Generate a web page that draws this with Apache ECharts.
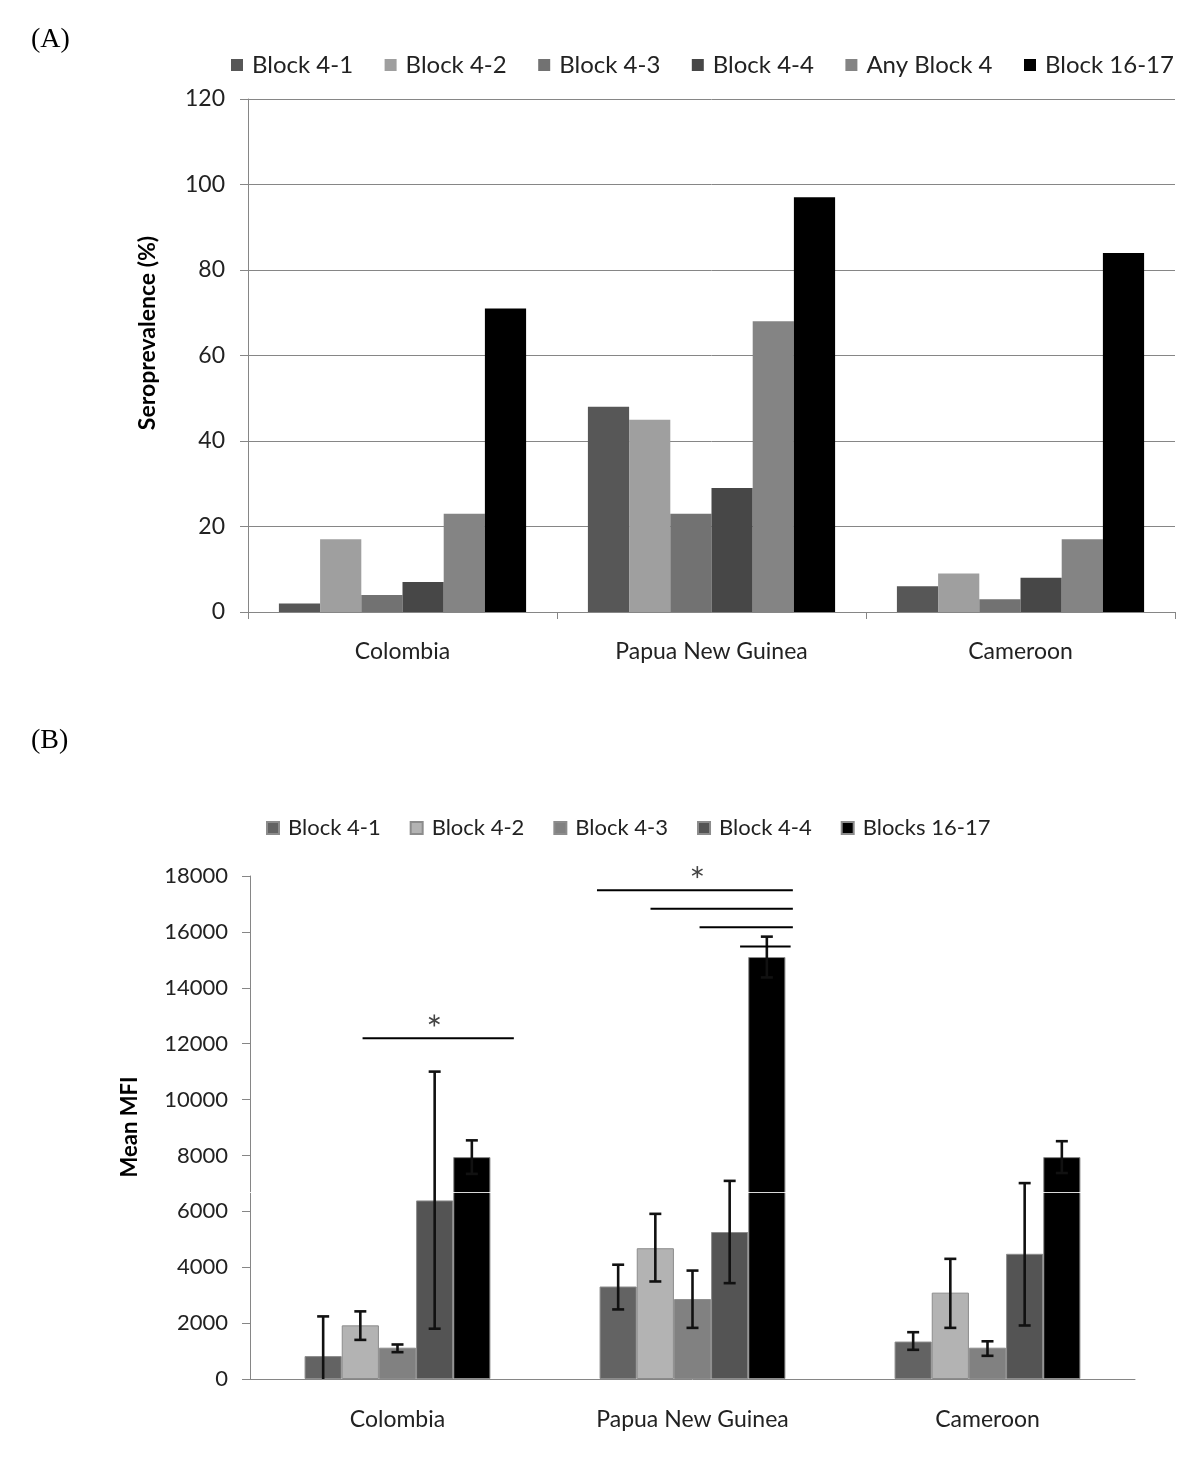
<!DOCTYPE html>
<html><head><meta charset="utf-8">
<script src="https://cdn.jsdelivr.net/npm/echarts@6/dist/echarts.min.js"></script>
<style>
html,body{margin:0;padding:0;background:#fff;}
#a{position:absolute;left:0;top:0;width:1200px;height:700px;}
#b{position:absolute;left:0;top:700px;width:1200px;height:768px;}
</style>
</head><body><div id="a"></div><div id="b"></div>
<script>
// ---------- shared ----------
const countries = ['Colombia', 'Papua New Guinea', 'Cameroon'];

// ---------- Panel A: seroprevalence (%) ----------
const namesA = ['Block 4-1', 'Block 4-2', 'Block 4-3', 'Block 4-4', 'Any Block 4', 'Block 16-17'];
const block41A = [2, 48, 6];
const block42A = [17, 45, 9];
const block43A = [4, 23, 3];
const block44A = [7, 29, 8];
const anyBlock4A = [23, 68, 17];
const block1617A = [71, 97, 84];
const yMinA = 0, yMaxA = 120, yStepA = 20;
const yTitleA = 'Seroprevalence (%)';

// ---------- Panel B: mean MFI ----------
const namesB = ['Block 4-1', 'Block 4-2', 'Block 4-3', 'Block 4-4', 'Blocks 16-17'];
const block41B = [820, 3310, 1340];
const block42B = [1920, 4680, 3090];
const block43B = [1120, 2860, 1120];
const block44B = [6390, 5260, 4480];
const block1617B = [7940, 15100, 7940];
// error bar ends (low, high)
const errLow41B = [-600, 2490, 1045];
const errHigh41B = [2240, 4090, 1675];
const errLow42B = [1400, 3490, 1830];
const errHigh42B = [2420, 5910, 4300];
const errLow43B = [960, 1830, 830];
const errHigh43B = [1235, 3880, 1350];
const errLow44B = [1800, 3430, 1915];
const errHigh44B = [11000, 7090, 7010];
const errLow1617B = [7340, 14370, 7370];
const errHigh1617B = [8540, 15830, 8510];
const yMinB = 0, yMaxB = 18000, yStepB = 2000;
const yTitleB = 'Mean MFI';
// significance bars: category, level, span in bar slots (0 = left edge of first bar)
const sigCategory = [0, 1, 1, 1, 1];
const sigLevel = [12190, 17490, 16830, 16170, 15480];
const sigFromSlot = [1.56, -0.07, 1.37, 2.69, 3.78];
const sigToSlot = [5.63, 5.2, 5.2, 5.2, 5.14];
const starCategory = [0, 1];
const starLevel = [12830, 18140];
const starSlot = [3.49, 2.63];
const artifactLevelB = 6700;

const FONT = 'Lato, "Open Sans", sans-serif';
const SERIF = '"Liberation Serif", "Times New Roman", serif';
const AXIS_GREY = '#868686';

// ================= Chart A =================
const colorsA = ['#575757', '#9f9f9f', '#727272', '#474747', '#848484', '#000000'];
const dataA = [block41A, block42A, block43A, block44A, anyBlock4A, block1617A];
const chartA = echarts.init(document.getElementById('a'), null, {renderer: 'canvas'});
chartA.setOption({
  animation: false,
  backgroundColor: '#fff',
  graphic: [
    {type: 'text', left: 31, top: 26, style: {text: '(A)', font: '28px ' + SERIF, fill: '#000'}},
    {type: 'text', x: 148, y: 333, rotation: Math.PI / 2,
     style: {text: yTitleA, font: 'bold 23px ' + FONT, fill: '#000', align: 'center', verticalAlign: 'middle'}}
  ],
  legend: {
    data: namesA, left: 226, top: 48, itemWidth: 12, itemHeight: 12, itemGap: 31.5,
    icon: 'rect',
    textStyle: {fontFamily: FONT, fontSize: 24, color: '#222', padding: [0, 0, 0, 4]}
  },
  grid: {left: 248, right: 25, top: 99, bottom: 88},
  xAxis: {
    type: 'category', data: countries,
    axisLine: {lineStyle: {color: AXIS_GREY, width: 1}},
    axisTick: {show: true, length: 7, lineStyle: {color: AXIS_GREY}},
    axisLabel: {fontFamily: FONT, fontSize: 23, color: '#222', margin: 28}
  },
  yAxis: {
    type: 'value', min: yMinA, max: yMaxA, interval: yStepA,
    axisLine: {show: true, lineStyle: {color: AXIS_GREY}},
    axisTick: {show: true, length: 8, lineStyle: {color: AXIS_GREY}},
    axisLabel: {fontFamily: FONT, fontSize: 23, color: '#222', margin: 23},
    splitLine: {show: true, lineStyle: {color: AXIS_GREY, width: 1}}
  },
  series: namesA.map((n, i) => ({
    name: n, type: 'bar', data: dataA[i], barGap: '0%', barCategoryGap: '20%',
    itemStyle: {color: colorsA[i]}
  }))
});

// ================= Chart B =================
const colorsB = ['#636363', '#b3b3b3', '#818181', '#545454', '#000000'];
const dataB = [block41B, block42B, block43B, block44B, block1617B];
const lowsB = [errLow41B, errLow42B, errLow43B, errLow44B, errLow1617B];
const highsB = [errHigh41B, errHigh42B, errHigh43B, errHigh44B, errHigh1617B];
const GAP_B = 0.37;
const NB = namesB.length;

function slotX(api, cat, slot) {
  const band = api.size([1, 0])[0];
  const bw = band * (1 - GAP_B) / NB;
  const c = api.coord([cat, 0])[0];
  return c - NB * bw / 2 + slot * bw;
}

function errRender(params, api) {
  const cat = api.value(0), lo = api.value(1), hi = api.value(2), k = api.value(3);
  const cx = slotX(api, cat, k + 0.5);
  const yHi = api.coord([cat, hi])[1];
  const yLo = api.coord([cat, Math.max(lo, 0)])[1];
  const half = 6;
  const st = {stroke: '#111', lineWidth: 2.6};
  const ch = [
    {type: 'line', shape: {x1: cx, y1: yLo, x2: cx, y2: yHi}, style: st},
    {type: 'line', shape: {x1: cx - half, y1: yHi, x2: cx + half, y2: yHi}, style: st}
  ];
  if (lo >= 0) ch.push({type: 'line', shape: {x1: cx - half, y1: yLo, x2: cx + half, y2: yLo}, style: st});
  return {type: 'group', children: ch};
}

function sigRender(params, api) {
  const cat = api.value(0), lvl = api.value(1), a = api.value(2), b = api.value(3);
  const y = api.coord([cat, lvl])[1];
  return {type: 'line', shape: {x1: slotX(api, cat, a), y1: y, x2: slotX(api, cat, b), y2: y},
          style: {stroke: '#000', lineWidth: 2}};
}

function starRender(params, api) {
  const cat = api.value(0), lvl = api.value(1), s = api.value(2);
  const cx = slotX(api, cat, s);
  const cy = api.coord([cat, lvl])[1];
  const r = 6;
  const st = {stroke: '#444', lineWidth: 1.6};
  const arms = [0, Math.PI / 3, 2 * Math.PI / 3].map(a => ({
    type: 'line',
    shape: {x1: cx + r * Math.sin(a), y1: cy - r * Math.cos(a), x2: cx - r * Math.sin(a), y2: cy + r * Math.cos(a)},
    style: st
  }));
  return {type: 'group', children: arms};
}

const barSeriesB = namesB.map((n, i) => ({
  name: n, type: 'bar', data: dataB[i], barGap: '0%', barCategoryGap: (GAP_B * 100) + '%',
  itemStyle: {color: colorsB[i], borderColor: '#8c8c8c', borderWidth: 1},
  z: 2
}));
barSeriesB[NB - 1].markLine = {
  silent: true, symbol: 'none', label: {show: false},
  lineStyle: {color: '#ffffff', opacity: 0.85, width: 1, type: 'solid'},
  data: [{yAxis: artifactLevelB}], z: 3, animation: false
};
const errSeriesB = namesB.map((n, k) => ({
  type: 'custom', name: n + ' error', renderItem: errRender, z: 5,
  encode: {x: 0, y: [1, 2]},
  data: countries.map((c, j) => [j, lowsB[k][j], highsB[k][j], k])
}));
const sigSeries = {
  type: 'custom', name: 'sig', renderItem: sigRender, z: 5, clip: false,
  encode: {x: 0, y: 1},
  data: sigCategory.map((c, i) => [c, sigLevel[i], sigFromSlot[i], sigToSlot[i]])
};
const starSeries = {
  type: 'custom', name: 'star', renderItem: starRender, z: 5, clip: false,
  encode: {x: 0, y: 1},
  data: starCategory.map((c, i) => [c, starLevel[i], starSlot[i]])
};

const chartB = echarts.init(document.getElementById('b'), null, {renderer: 'canvas'});
chartB.setOption({
  animation: false,
  backgroundColor: '#fff',
  graphic: [
    {type: 'text', left: 31, top: 27, style: {text: '(B)', font: '28px ' + SERIF, fill: '#000'}},
    {type: 'text', x: 130, y: 427, rotation: Math.PI / 2,
     style: {text: yTitleB, font: 'bold 22px ' + FONT, fill: '#000', align: 'center', verticalAlign: 'middle'}}
  ],
  legend: {
    data: namesB, left: 261, top: 112, itemWidth: 12, itemHeight: 12, itemGap: 29,
    icon: 'rect',
    textStyle: {fontFamily: FONT, fontSize: 22, color: '#222', padding: [0, 0, 0, 4]}
  },
  grid: {left: 250, right: 65, top: 176, bottom: 89},
  xAxis: {
    type: 'category', data: countries,
    axisLine: {lineStyle: {color: AXIS_GREY, width: 1}},
    axisTick: {show: false},
    axisLabel: {fontFamily: FONT, fontSize: 23, color: '#222', margin: 29}
  },
  yAxis: {
    type: 'value', min: yMinB, max: yMaxB, interval: yStepB,
    axisLine: {show: true, lineStyle: {color: AXIS_GREY}},
    axisTick: {show: true, length: 8, lineStyle: {color: AXIS_GREY}},
    axisLabel: {fontFamily: FONT, fontSize: 22, color: '#222', margin: 22, formatter: v => String(v)},
    splitLine: {show: false}
  },
  series: barSeriesB.concat(errSeriesB, [sigSeries, starSeries])
});
</script>
</body></html>
